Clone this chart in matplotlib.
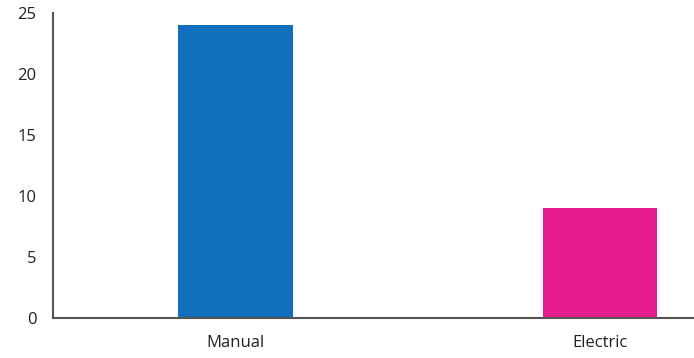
import matplotlib
matplotlib.use("Agg")
import matplotlib.pyplot as plt

categories = ["Manual", "Electric"]
values = [24, 9]
colors = ["#1170bd", "#e41b8d"]
yticks = [0, 5, 10, 15, 20, 25]

plt.rcParams['font.family'] = ['Open Sans', 'DejaVu Sans']

fig = plt.figure(figsize=(6.94, 3.58), dpi=100)
ax = fig.add_axes([53 / 694, 40 / 358, 1 - 53 / 694, 305 / 358])

x = list(range(len(categories)))
ax.bar(x, values, width=0.315, color=colors)

ax.set_xlim(-0.5, 1.258)
ax.set_ylim(0, 25)
ax.set_yticks(yticks)
ax.set_xticks(x)
ax.set_xticklabels(categories)

for s in ["top", "right"]:
    ax.spines[s].set_visible(False)
for s in ["left", "bottom"]:
    ax.spines[s].set_color("#555555")
    ax.spines[s].set_linewidth(1.5)

ax.tick_params(axis="both", length=0, labelsize=12, labelcolor="#222222")
ax.tick_params(axis="y", pad=12)
ax.tick_params(axis="x", pad=12)

fig.savefig("out.png", dpi=100)
